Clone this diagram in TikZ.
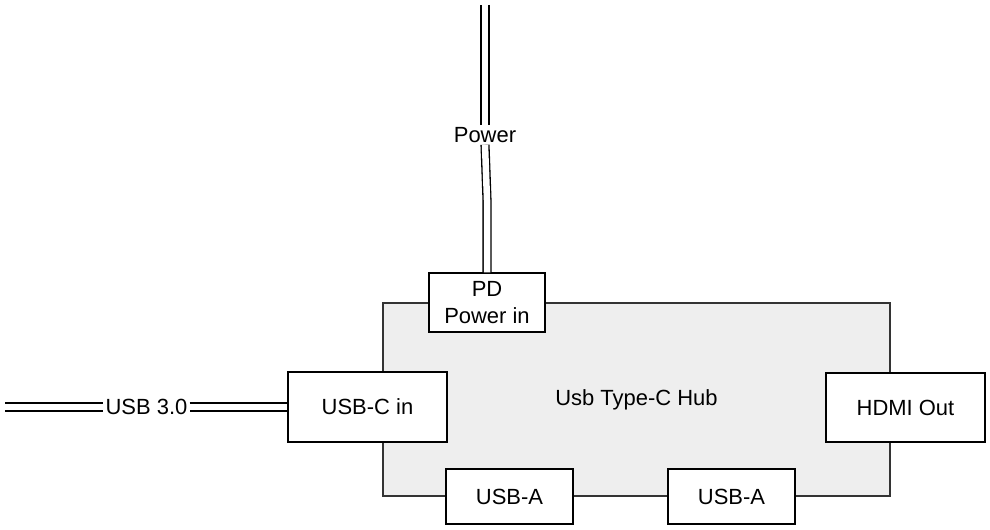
\documentclass[tikz,border=0pt]{standalone}
\usepackage{fontspec}
\setmainfont{Liberation Sans}
\usepackage{tikz}
\usetikzlibrary{
	positioning,
	calc
}
\usepackage{xcolor}
\definecolor{hubgray}{HTML}{EEEEEE}
\definecolor{hubline}{HTML}{333333}

\begin{document}
\begin{tikzpicture}[x=0.02cm,y=-0.02cm,
		every node/.style={font=\fontsize{12.5}{15}\selectfont},
		port/.style={draw=black,fill=white,line width=0.75pt,inner sep=0pt,align=center},
		cable/.style={draw=black,line width=0.75pt,double=white,double distance=3.7pt},
		lbl/.style={fill=white,inner sep=1pt}
	]
		\useasboundingbox (0,0) rectangle (990,530);
		
		% Hub body
		\node[draw=hubline,fill=hubgray,line width=0.75pt,
		minimum width=507*0.02cm,minimum height=193*0.02cm]
		(hub) at (636.5,399.5) {Usb Type-C Hub};
		
		% Ports
		\node[port,minimum width=116*0.02cm,minimum height=59*0.02cm]
		(pd) at (487,302.5) {PD\\Power in};
		\node[port,minimum width=159*0.02cm,minimum height=70*0.02cm]
		(usbc) at (367.5,407) {USB-C in};
		\node[port,minimum width=159*0.02cm,minimum height=69*0.02cm]
		(hdmi) at (905.5,407.5) {HDMI Out};
		\node[port,minimum width=127*0.02cm,minimum height=55*0.02cm]
		(usba1) at (509.5,496.5) {USB-A};
		\node[port,minimum width=127*0.02cm,minimum height=55*0.02cm]
		(usba2) at (731.5,496.5) {USB-A};
		
		% Power cable
		\coordinate (pwrtop) at (485,5);
		\node[lbl] (pwrlbl) at (485,135) {Power};
		\draw[cable] (pwrtop) -- (pwrlbl.north);
		\draw[cable] (pwrlbl.south) -- (487,200) -- (pd.north);
		
		% USB 3.0 cable
		\coordinate (usbsrc) at (5,407);
		\node[lbl] (usblbl) at (146.5,407) {USB 3.0};
		\draw[cable] (usbsrc) -- (usblbl.west);
		\draw[cable] (usblbl.east) -- (usbc.west);
		
	\end{tikzpicture}
\end{document}
